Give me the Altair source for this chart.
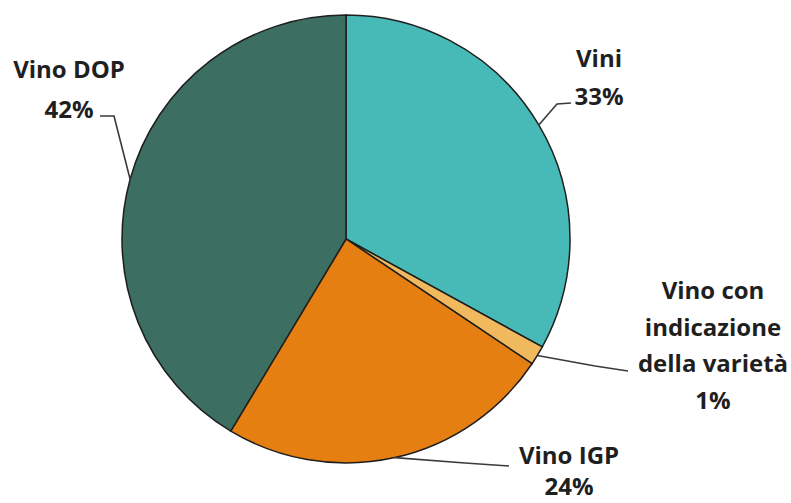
import math
import altair as alt
import pandas as pd

# ---- data ----
categories = ["Vini", "Vino con indicazione della varietà", "Vino IGP", "Vino DOP"]
shares = [33.0, 1.4, 24.2, 41.4]
label_lines = [["Vini", "33%"],
               ["Vino con", "indicazione", "della varietà", "1%"],
               ["Vino IGP", "24%"],
               ["Vino DOP", "42%"]]
colors = ["#47BAB7", "#F1B95E", "#E57F12", "#3D6E62"]

# ---- layout (style / positions, not data) ----
W, H = 791, 503
CX, CY, R = 346, 239, 224
FONT = "Open Sans"
FS = 24
# leader elbow & end points, label centre x, first-line y, line step
layout = {
    "Vini": dict(elbow=(557, 104), end=(571, 103), tx=599, ty=60, step=38),
    "Vino con indicazione della varietà": dict(elbow=(595, 366), end=(628, 371), tx=713, ty=292, step=36.5),
    "Vino IGP": dict(elbow=(465, 463), end=(509, 466), tx=569, ty=457, step=31),
    "Vino DOP": dict(elbow=(114, 116), end=(100, 116), tx=69, ty=71, step=40),
}

total = sum(shares)
pie = pd.DataFrame({"cat": categories, "share": shares, "order": range(len(categories))})

# leader lines from slice mid-angles
line_rows, text_rows = [], []
cum = 0.0
for cat, s, lines in zip(categories, shares, label_lines):
    mid = (cum + s / 2) / total * 2 * math.pi
    cum += s
    ax = CX + R * math.sin(mid)
    ay = CY - R * math.cos(mid)
    L = layout[cat]
    pts = [(ax, ay), L["elbow"], L["end"]]
    for i, (px, py) in enumerate(pts):
        line_rows.append({"cat": cat, "i": i, "px": px, "py": py})
    for j, t in enumerate(lines):
        text_rows.append({"t": t, "px": L["tx"], "py": L["ty"] + j * L["step"]})

lines_df = pd.DataFrame(line_rows)
text_df = pd.DataFrame(text_rows)

arc = alt.Chart(pie).mark_arc(
    outerRadius=R, stroke="#1e1e1e", strokeWidth=1.5
).encode(
    theta=alt.Theta("share:Q", stack=True),
    order=alt.Order("order:Q"),
    color=alt.Color("cat:N", scale=alt.Scale(domain=categories, range=colors), legend=None),
    x=alt.value(CX), y=alt.value(CY),
)

leaders = alt.Chart(lines_df).mark_line(color="#3a3a3a", strokeWidth=1.6).encode(
    x=alt.X("px:Q", scale=None),
    y=alt.Y("py:Q", scale=None),
    detail="cat:N",
    order="i:Q",
)

texts = alt.Chart(text_df).mark_text(
    font=FONT, fontSize=FS, fontWeight="bold", color="#1f1f1f",
    align="center", baseline="middle"
).encode(
    x=alt.X("px:Q", scale=None),
    y=alt.Y("py:Q", scale=None),
    text="t:N",
)

chart = alt.layer(arc, leaders, texts).properties(
    width=W, height=H, padding=0, autosize=alt.AutoSizeParams(type="none"),
    background="white"
).configure_view(stroke=None)

chart.save("out.html", embed_options={"renderer": "svg", "actions": False})
